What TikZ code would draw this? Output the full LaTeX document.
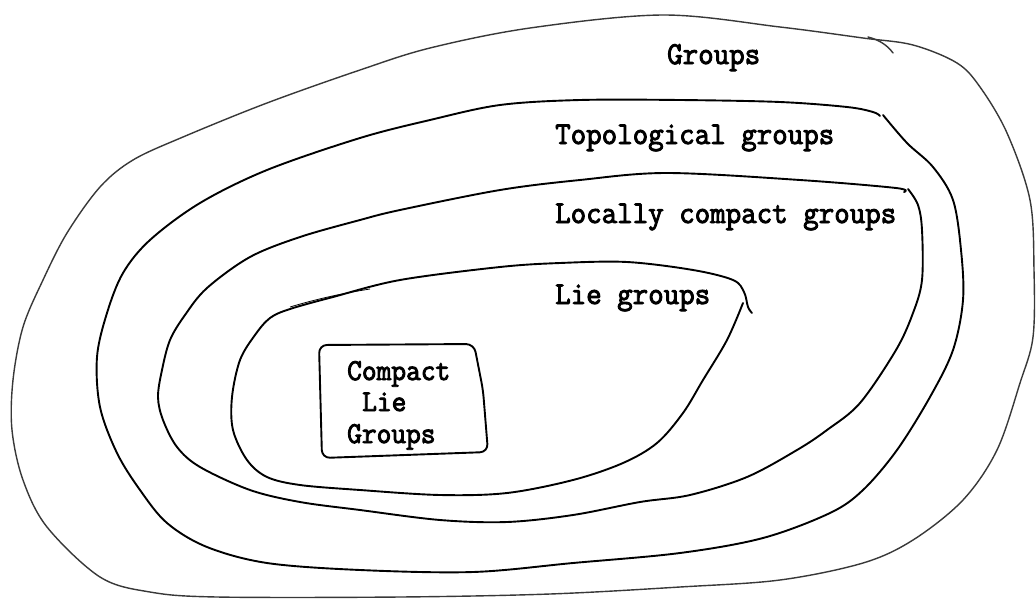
\documentclass[tikz,border=0pt]{standalone}
\usepackage{fontspec}
\usepackage{graphicx}
\newfontfamily\typew{Latin Modern Mono}
\newcommand{\tallt}[1]{\scalebox{1}[1.06]{\special{pdf:literal direct 2 Tr 0.9 w}#1\special{pdf:literal direct 0 Tr}}}
\tikzset{
  ring/.style={line width=1.9pt, line cap=round, line join=round},
  outerring/.style={line width=1.4pt, draw=black!78, line cap=round, line join=round},
  lbl/.style={anchor=base west, inner sep=0pt, font=\typew\fontsize{30.1}{34}\selectfont},
  boxlbl/.style={anchor=base west, inner sep=0pt, font=\typew\fontsize{28.6}{32}\selectfont},
}
\begin{document}
\begin{tikzpicture}[x=1pt,y=-1pt]
\fill[white] (0,0) rectangle (1036,600);
\useasboundingbox (0,0) rectangle (1036,600);

% Groups (outer)
\draw[outerring] plot[smooth cycle, tension=0.55] coordinates {
 (430,48) (530,28) (663,15) (780,27) (863,38) (913,45) (957,63) (980,87)
 (1007,133) (1030,200) (1034,270) (1033,337) (1020,383) (997,450) (963,500)
 (913,540) (863,563) (780,580) (680,587) (550,594) (400,597) (217,597)
 (150,592) (100,577) (47,527) (23,480) (12,430) (13,380) (23,327) (43,280)
 (67,233) (100,187) (133,160) (183,137) (267,103) (360,70)};
\draw[outerring] (868,37) .. controls (880,40) and (888,46) .. (893,53);

% Topological groups
\draw[ring] plot[smooth, tension=0.55] coordinates {
 (883,115) (907,143) (933,167) (953,200) (961,250) (963,300) (953,350)
 (930,397) (897,450) (863,490) (830,513) (763,538) (680,553) (573,563)
 (473,572) (360,570) (267,563) (207,547) (167,523) (140,490) (117,453)
 (100,407) (97,357) (107,313) (123,273) (150,240) (200,203) (267,170)
 (360,138) (430,120) (500,105) (580,100) (680,100) (780,102) (847,107)
 (873,112) (880,116)};

% Locally compact groups
\draw[ring] plot[smooth, tension=0.55] coordinates {
 (908,189) (918,205) (922,230) (922,280) (913,313) (896,350) (860,403)
 (827,430) (797,450) (747,477) (690,495) (640,502) (573,515) (507,522)
 (440,520) (360,510) (300,502) (250,490) (200,467) (177,447) (163,420)
 (158,397) (162,370) (170,340) (185,315) (207,288) (250,257) (300,237)
 (360,220) (400,210) (500,190) (580,180) (667,173) (800,180) (896,188)
 (904,192)};

% Lie groups
\draw[ring] plot[smooth, tension=0.55] coordinates {
 (743,303) (727,340) (703,380) (683,413) (657,443) (623,463) (573,480)
 (507,493) (440,495) (360,490) (300,485) (267,477) (247,460) (233,430)
 (232,397) (240,360) (255,335) (270,318) (290,309) (333,297) (400,280)
 (500,267) (560,263) (627,262) (693,270) (733,280) (744,292) (748,307)
 (752,313)};
\draw[line width=0.8pt] (290,307) .. controls (320,298) and (345,293) .. (370,289);

% Compact Lie Groups box
\draw[ring, rounded corners=8pt] (319,345) -- (474,344) -- (483,390) -- (488,452) -- (322,458) -- cycle;

% Labels
\node[lbl] (g)  at (667,64)  {\tallt{Groups}};
\node[lbl] (tg) at (555,144) {\tallt{Topological groups}};
\node[lbl] (lc) at (555,223) {\tallt{Locally compact groups}};
\node[lbl] (lg) at (555,304) {\tallt{Lie groups}};
\node[boxlbl] (c1) at (347,380) {\tallt{Compact}};
\node[boxlbl] (c2) at (362,411) {\tallt{Lie}};
\node[boxlbl] (c3) at (347,443) {\tallt{Groups}};
\end{tikzpicture}
\end{document}
